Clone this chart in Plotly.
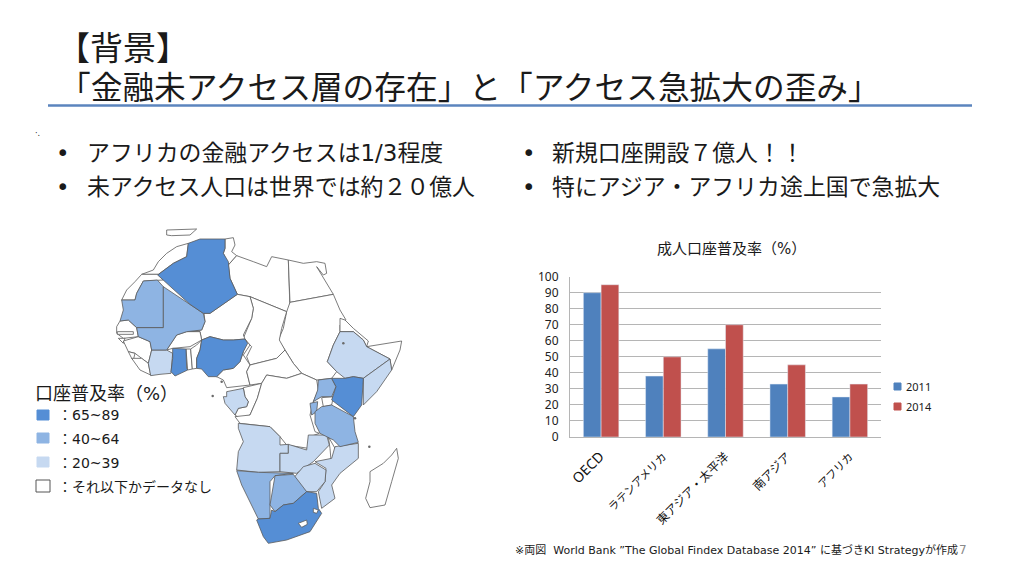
import plotly.graph_objects as go

FONT = "DejaVu Sans, Noto Sans CJK JP, sans-serif"
CHART_FONT = "Noto Sans, Noto Sans CJK JP, sans-serif"
W, H = 1024, 576

# bar chart data
regions = ["OECD", "ラテンアメリカ", "東アジア・太平洋", "南アジア", "アフリカ"]
region_labels = ["<span style='font-size:14px'>OECD</span>", "ラテンアメリカ", "<span style='font-size:12px'>東アジア・太平洋</span>",
                 "<span style='font-size:12px'>南アジア</span>", "アフリカ"]
values_2011 = [90, 38, 55, 33, 25]
values_2014 = [95, 50, 70, 45, 33]
y_ticks = list(range(0, 101, 10))

# map outlines (map units, y going down)
algeria = [(505,85),(540,72),(615,72),(615,100),(610,115),(625,140),(630,190),(652,238),(570,295),(550,295),(510,268),(413,180),(460,145),(500,125)]
nigeria = [(545,375),(570,365),(610,375),(640,375),(675,372),(683,385),(670,410),(660,440),(640,460),(610,465),(590,485),(565,485),(545,462),(530,460),(530,430),(540,405)]
ghana = [(458,400),(498,402),(500,460),(503,465),(465,483),(453,470),(458,430)]
kenya = [(935,490),(975,490),(1000,485),(1030,490),(1025,570),(1000,605),(935,555),(948,515)]
south_africa = [(715,912),(750,910),(755,885),(765,890),(790,870),(820,865),(860,830),(890,835),(895,880),(905,895),(870,950),(800,975),(745,985),(730,965),(710,915)]

mauritania = [(305,255),(345,255),(350,235),(370,198),(412,195),(430,215),(430,338),(350,338),(325,315),(300,318),(310,285)]
mali = [(430,215),(510,268),(550,295),(555,320),(545,345),(500,350),(470,360),(440,405),(395,405),(390,380),(355,365),(350,338),(430,338)]
uganda = [(895,495),(935,490),(948,515),(935,545),(905,545),(880,560),(893,525)]
rwanda = [(870,565),(893,560),(890,590),(875,600)]
tanzania = [(905,575),(935,570),(1000,605),(1005,650),(1015,682),(960,695),(940,675),(900,655),(885,625),(885,590)]
namibia = [(650,767),(715,772),(820,775),(765,782),(750,800),(750,910),(715,912),(690,860),(665,810)]
botswana = [(765,782),(820,778),(860,830),(820,865),(790,870),(765,890),(750,870)]

cote_divoire = [(395,405),(440,405),(458,415),(453,475),(420,478),(392,482),(385,445)]
gabon = [(620,530),(670,520),(675,545),(685,560),(680,575),(655,580),(645,600),(615,565),(610,545),(620,545)]
ethiopia = [(960,350),(1000,350),(1030,375),(1040,395),(1110,432),(1030,490),(1000,485),(975,490),(950,470),(922,440),(940,390)]
somalia = [(1030,490),(1110,432),(1115,465),(1070,530),(1030,570)]
angola = [(655,625),(750,635),(780,665),(780,690),(805,688),(805,715),(780,715),(780,770),(715,772),(650,765),(655,710),(670,680),(655,640)]
zambia = [(780,715),(805,715),(805,688),(860,705),(865,660),(920,660),(928,690),(880,740),(830,775),(780,770)]
mozambique = [(945,695),(1015,685),(1015,730),(960,775),(935,810),(945,850),(905,880),(895,830),(915,800),(918,760),(885,740),(935,730)]
zimbabwe = [(820,790),(850,755),(885,745),(918,765),(915,800),(890,830),(860,830)]

spain_bit = [(440,45),(530,42),(510,60),(455,62),(440,60)]
morocco = [(505,85),(500,125),(460,145),(415,178),(365,178),(400,165),(415,140),(440,115),(470,95)]
west_sahara = [(305,255),(320,225),(345,200),(365,178),(415,178),(430,195),(370,198),(350,235),(345,255)]
tunisia = [(615,72),(640,68),(645,90),(635,110),(650,122),(625,150),(610,115),(615,100)]
libya = [(625,150),(650,122),(700,140),(740,155),(755,125),(805,135),(810,285),(800,290),(690,245),(652,238),(630,190)]
egypt = [(805,135),(850,145),(890,140),(915,145),(920,175),(910,180),(890,155),(940,238),(810,262)]
sudan = [(800,290),(810,262),(940,238),(960,285),(978,315),(960,330),(960,350),(940,390),(922,440),(950,470),(935,490),(890,495),(845,475),(820,445),(795,405),(775,375),(790,340)]
chad = [(690,245),(800,290),(785,340),(778,375),(795,405),(770,430),(730,440),(690,450),(680,425),(695,395),(670,370),(695,310),(700,280)]
niger = [(552,295),(570,295),(652,238),(690,245),(700,280),(695,310),(670,360),(675,372),(640,375),(610,375),(570,365),(545,375),(540,350),(505,350),(545,345),(555,320)]
senegal = [(300,318),(325,315),(350,338),(355,365),(310,370),(290,355),(290,335)]
gambia = [(292,350),(340,350),(340,358),(292,358)]
guinea_bissau = [(295,370),(315,370),(310,385)]
guinea = [(310,378),(355,365),(390,380),(395,405),(385,445),(365,430),(345,415),(325,410)]
sierra_leone = [(325,410),(345,415),(340,435),(335,430)]
liberia = [(335,430),(365,430),(385,445),(392,480),(360,465)]
burkina = [(440,405),(470,360),(500,350),(540,350),(545,375),(510,395),(458,400)]
togo = [(498,402),(512,402),(517,462),(503,465)]
benin = [(512,402),(530,390),(545,375),(540,405),(530,430),(530,460),(517,462)]
cameroon = [(675,372),(690,390),(670,420),(690,450),(680,470),(690,510),(620,518),(610,495),(590,485),(610,465),(640,460),(660,440),(670,410)]
car = [(690,450),(730,440),(770,430),(795,405),(820,445),(845,475),(800,490),(740,480),(725,505),(690,510),(680,470)]
congo = [(670,518),(725,505),(712,550),(690,600),(660,610),(645,600),(655,580),(680,575),(685,560),(675,545)]
drc = [(740,480),(800,490),(845,475),(890,495),(895,525),(880,560),(870,600),(885,650),(898,655),(870,665),(865,700),(800,690),(780,665),(750,635),(660,625),(645,605),(690,600),(712,550),(725,505)]
somaliland = [(1040,395),(1145,378),(1140,405),(1115,465),(1110,432)]
eritrea = [(960,310),(975,315),(1000,340),(1045,378),(1040,395),(1030,375),(1000,350),(960,350)]
malawi = [(925,665),(945,700),(950,750),(935,760),(930,700)]
lake_victoria = [(905,548),(940,545),(935,570),(910,575)]
lesotho = [(835,925),(860,915),(862,928),(845,937)]
swaziland = [(880,880),(895,885),(890,895),(880,892)]
madagascar = [(1130,700),(1135,730),(1115,800),(1095,870),(1050,878),(1037,850),(1050,800),(1050,770),(1090,745),(1115,720)]

# small islands and the lake in Ethiopia
island_x = [970, 578, 605, 1005, 1048]
island_y = [385, 543, 500, 610, 695]

map_groups = [
    ("#FFFFFF", [spain_bit, morocco, west_sahara, tunisia, libya, egypt, sudan, chad, niger, senegal, gambia,
                 guinea_bissau, guinea, sierra_leone, liberia, burkina, togo, benin, cameroon, car, congo, drc,
                 somaliland, eritrea, malawi, lake_victoria, madagascar]),
    ("#C6D9F1", [cote_divoire, gabon, ethiopia, somalia, angola, zambia, mozambique, zimbabwe]),
    ("#8EB4E3", [mauritania, mali, uganda, rwanda, tanzania, namibia, botswana]),
    ("#558ED5", [algeria, nigeria, ghana, kenya, south_africa]),
    ("#FFFFFF", [lesotho, swaziland]),
]

fig = go.Figure()

for color, countries in map_groups:
    for shape in countries:
        fig.add_trace(go.Scatter(
            x=[p[0] for p in shape] + [shape[0][0]],
            y=[p[1] for p in shape] + [shape[0][1]],
            mode="lines", fill="toself", fillcolor=color,
            line=dict(color="#5A5A5A", width=0.8),
            xaxis="x2", yaxis="y2", showlegend=False, hoverinfo="skip",
        ))
fig.add_trace(go.Scatter(x=island_x, y=island_y, mode="markers", marker=dict(size=2.5, color="#6A6A6A"),
                         xaxis="x2", yaxis="y2", showlegend=False, hoverinfo="skip"))

fig.add_trace(go.Bar(x=regions, y=values_2011, name="2011", marker_color="#4F81BD", showlegend=False))
fig.add_trace(go.Bar(x=regions, y=values_2014, name="2014", marker_color="#C0504D", showlegend=False))


def px(x):
    return x / W


def py(y):
    return 1 - y / H


def label(text, x, y, size, color="#1A1A1A", anchor="left", family=FONT):
    fig.add_annotation(text=text, x=px(x), y=py(y), xref="paper", yref="paper", xanchor=anchor, yanchor="middle",
                       showarrow=False, font=dict(family=family, size=size, color=color))


label("【背景】", 55, 48, 33)
label("「金融未アクセス層の存在」と「アクセス急拡大の歪み」", 57, 88, 31.7)
label("•", 54, 153, 22.9)
label("アフリカの金融アクセスは1/3程度", 85, 153, 22.9)
label("•", 54, 187, 22.9)
label("未アクセス人口は世界では約２０億人", 85, 187, 22.9)
label("•", 520, 153, 22.9)
label("新規口座開設７億人！！", 550, 153, 22.9)
label("•", 520, 187, 22.9)
label("特にアジア・アフリカ途上国で急拡大", 550, 187, 22.9)
label("成人口座普及率（%）", 731, 249, 15, anchor="center")
label("※両図  World Bank ”The Global Findex Database 2014” に基づきKI Strategyが作成", 513, 550, 11)
label("7", 957, 550, 12, color="#8A8A8A")
label("口座普及率（%）", 33, 393, 18)
label("：65~89", 56, 415, 14)
label("：40~64", 56, 439, 14)
label("：20~39", 56, 463, 14)
label("：それ以下かデータなし", 56, 487, 14)
label("·.", 33, 133, 8)
label("2011", 904, 386, 11, family=CHART_FONT)
label("2014", 904, 406, 11, family=CHART_FONT)

# title rule, small legend squares of the map and of the bars
fig.add_shape(type="line", x0=px(48), x1=px(972), y0=py(105.5), y1=py(105.5), xref="paper", yref="paper",
              line=dict(color="#5B85BE", width=2.5))
for left, right, top, bottom, fill in [(37, 49, 410, 420, "#558ED5"), (37, 49, 433, 443, "#8EB4E3"),
                                       (37, 49, 457, 467, "#C6D9F1"), (36, 50, 480, 492, "#FFFFFF"),
                                       (894, 901, 383, 390, "#4F81BD"), (894, 901, 403, 410, "#C0504D")]:
    fig.add_shape(type="rect", x0=px(left), x1=px(right), y0=py(top), y1=py(bottom), xref="paper", yref="paper",
                  fillcolor=fill, line=dict(color="#555555" if fill == "#FFFFFF" else fill, width=1))

fig.update_layout(
    width=W, height=H, margin=dict(l=0, r=0, t=0, b=0, autoexpand=False),
    paper_bgcolor="white", plot_bgcolor="white",
    font=dict(family=CHART_FONT, color="#333333"),
    barmode="group", bargap=0.43, bargroupgap=0,
    xaxis=dict(domain=[px(570), px(881)], anchor="y", tickangle=-45, showgrid=False, automargin=False,
               ticks="outside", ticklen=8, tickcolor="white", tickmode="array", tickvals=regions,
               ticktext=region_labels, linecolor="#B5B5B5", linewidth=1, showline=True,
               tickfont=dict(size=11, color="#111111")),
    yaxis=dict(domain=[py(437), py(276.7)], anchor="x", range=[0, 100], tickvals=y_ticks, gridcolor="#B5B5B5",
               gridwidth=1, showline=True, linecolor="#B5B5B5", zeroline=False, automargin=False,
               ticks="outside", ticklen=8, tickcolor="white", tickfont=dict(size=12, color="#222222")),
    xaxis2=dict(domain=[px(20), px(420)], anchor="y2", range=[0, 1200], visible=False, automargin=False),
    yaxis2=dict(domain=[py(545), py(215)], anchor="x2", range=[990, 0], visible=False, automargin=False),
)

fig.write_html("out.html", config=dict(displayModeBar=False), post_script="document.body.style.margin='0';")
